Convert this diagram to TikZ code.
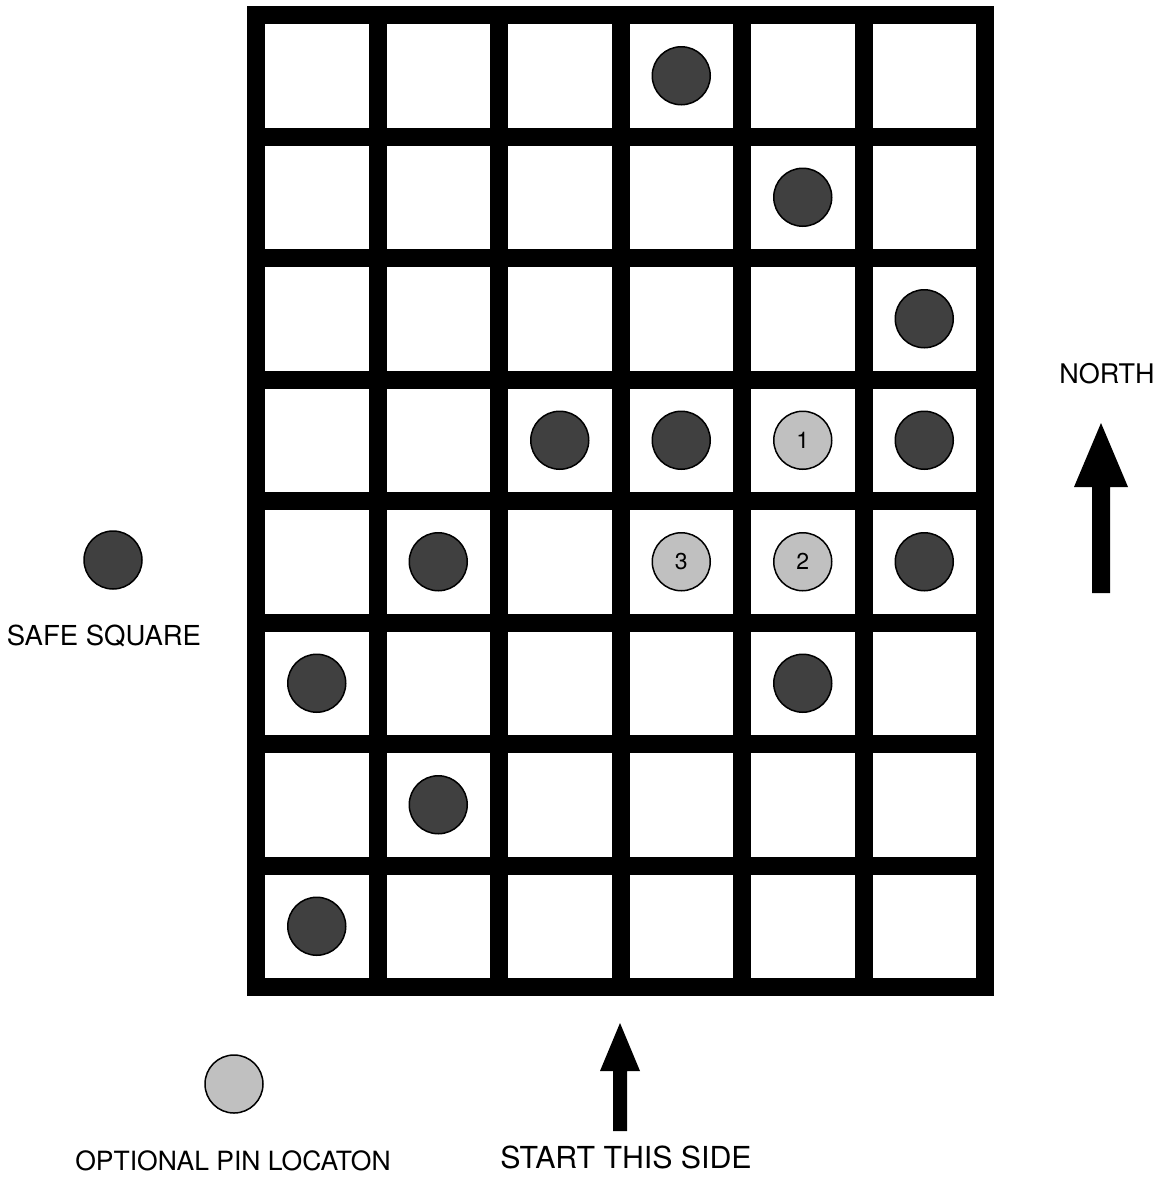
\documentclass[tikz,border=0pt]{standalone}
\usepackage{fontspec}
\setmainfont{TeX Gyre Heros}
\usepackage{xcolor}
\definecolor{safegray}{RGB}{64,64,64}
\definecolor{pingray}{RGB}{192,192,192}
\newcommand{\cellx}{121.5}

\begin{document}
\begin{tikzpicture}[x=1pt, y=-1pt,
    safedot/.style={circle, draw=black, line width=1.5pt, fill=safegray, minimum size=58pt, inner sep=0pt},
    pindot/.style={circle, draw=black, line width=1.5pt, fill=pingray, minimum size=58pt, inner sep=0pt, font=\fontsize{23}{27}\selectfont},
    legendtext/.style={anchor=base, inner sep=0pt, font=\fontsize{27}{32}\selectfont},
    gridline/.style={line width=18pt}]
    \useasboundingbox (0,0) rectangle (1164,1178);

    % --- Board: 6 columns, 8 rows ---
    \foreach \i in {1,...,5} {
        \draw[gridline] ({256+\cellx*\i},15) -- ({256+\cellx*\i},987);
    }
    \foreach \j in {1,...,7} {
        \draw[gridline] (256,{15+\cellx*\j}) -- (985,{15+\cellx*\j});
    }
    \draw[gridline, line join=miter] (256,15) rectangle (985,987);

    % --- Safe squares ---
    \foreach \c/\r in {3/0,4/1,5/2,2/3,3/3,5/3,1/4,5/4,0/5,4/5,1/6,0/7} {
        \node[safedot] (safe-\c-\r) at ({316.75+\cellx*\c},{75.75+\cellx*\r}) {};
    }

    % --- Optional pin locations ---
    \foreach \c/\r/\n in {4/3/1,4/4/2,3/4/3} {
        \node[pindot] (pin-\n) at ({316.75+\cellx*\c},{75.75+\cellx*\r}) {\n};
    }

    % --- Legend ---
    \node[safedot] (safe-key) at (113,560) {};
    \node[legendtext, font=\fontsize{27.5}{32}\selectfont] (safe-label) at (104,645) {SAFE SQUARE};
    \node[pindot] (pin-key) at (234,1084) {};
    \node[legendtext, font=\fontsize{26.5}{32}\selectfont] (pin-label) at (233,1170) {OPTIONAL PIN LOCATON};

    % --- North arrow ---
    \node[legendtext] (north-label) at (1107,383) {NORTH};
    \fill (1101,423) -- (1128,487) -- (1110,487) -- (1110,593)
        -- (1092,593) -- (1092,487) -- (1074,487) -- cycle;

    % --- Start arrow ---
    \fill (620,1023) -- (640,1071) -- (627,1071) -- (627,1131)
        -- (613,1131) -- (613,1071) -- (600,1071) -- cycle;
    \node[legendtext, font=\fontsize{30.3}{36}\selectfont] (start-label) at (626,1168) {START THIS SIDE};
\end{tikzpicture}
\end{document}
